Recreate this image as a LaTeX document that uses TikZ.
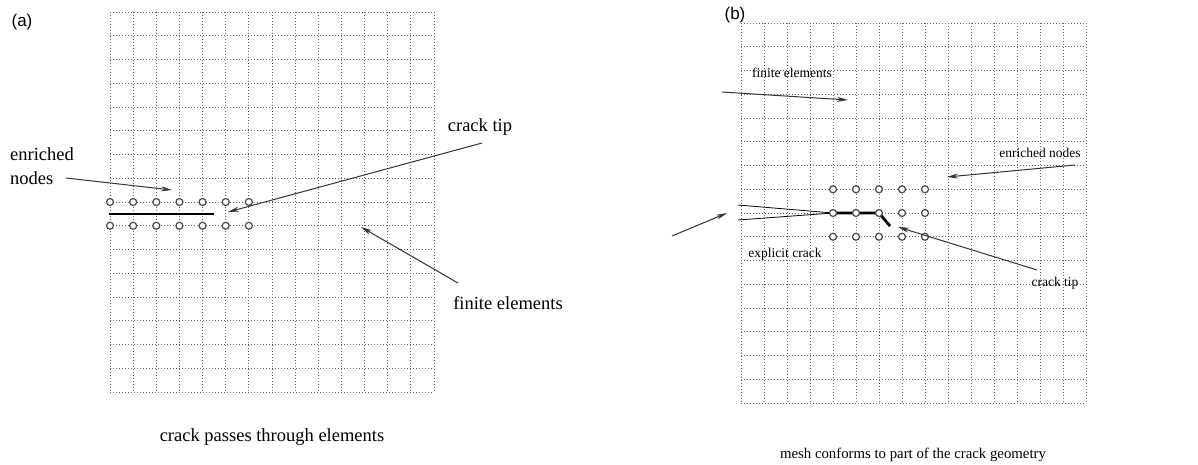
\documentclass[tikz,border=0pt]{standalone}
\usepackage{fontspec}
\setmainfont{Liberation Serif}
\newfontfamily\sansf{Liberation Sans}
\usetikzlibrary{arrows.meta}
\begin{document}
\begin{tikzpicture}[x=1pt,y=-1pt,
 gridline/.style={draw=black!62, line width=1pt, dash pattern=on 1.3pt off 1.7pt},
 enr/.style={circle, draw=black!72, line width=1.2pt, inner sep=0pt, minimum size=7pt, fill=white},
 lab/.style={font=\fontsize{18.5}{24}\selectfont, inner sep=0pt, align=left},
 labb/.style={font=\fontsize{13.5}{16}\selectfont, inner sep=0pt},
 capbstyle/.style={font=\fontsize{14.8}{17}\selectfont, inner sep=0pt},
 tag/.style={font=\sansf\fontsize{17}{20}\selectfont, inner sep=0pt},
 ptr/.style={draw=black!80, line width=1pt, -{Stealth[length=11pt,width=5pt]}},
 crack/.style={line width=2.8pt, black},
 thincrack/.style={line width=0.8pt, black}]
\useasboundingbox (0,0) rectangle (1198,464);
\fill[white] (0,0) rectangle (1198,464);

% ---------- panel (a) ----------
\foreach \i in {0,...,14} \draw[gridline] ({110+\i*23.143},12) -- ++(0,380);
\foreach \j in {0,...,16} \draw[gridline] (110,{12+\j*23.75}) -- ++(324,0);
\draw[crack] (109,214) -- (214,214);
\foreach \k in {0,...,6} {
  \node[enr] (at\k) at ({110+\k*23.143},202) {};
  \node[enr] (ab\k) at ({110+\k*23.143},225.75) {};
}
\node[tag] (taga) at (22,22) {(a)};
\node[lab, anchor=west] (enra) at (10,166) {enriched\\nodes};
\node[lab] (tipa) at (480,127) {crack tip};
\node[lab] (fea) at (508,303) {finite elements};
\node[lab] (capa) at (272,437) {crack passes through elements};
\coordinate (enraS) at (66,178); \coordinate (enraE) at (172,190);
\coordinate (tipaS) at (482,143); \coordinate (tipaE) at (228,212);
\coordinate (feaS) at (458,283); \coordinate (feaE) at (361,227);
\draw[ptr] (enraS) -- (enraE);
\draw[ptr] (tipaS) -- (tipaE);
\draw[ptr] (feaS) -- (feaE);

% ---------- panel (b) ----------
\foreach \i in {0,...,15} \draw[gridline] ({741+\i*23},23) -- ++(0,380);
\foreach \j in {0,...,16} \draw[gridline] (741,{23+\j*23.75}) -- ++(345,0);
\draw[thincrack] (738,205) -- (833,213);
\draw[thincrack] (738,220) -- (833,213);
\draw[crack] (833,213) -- (879,213) -- (890,226);
\foreach \k in {4,...,8} {
  \node[enr] (bt\k) at ({741+\k*23},189.25) {};
  \node[enr] (bm\k) at ({741+\k*23},213) {};
  \node[enr] (bb\k) at ({741+\k*23},236.75) {};
}
\node[tag] (tagb) at (735,15) {(b)};
\node[labb] (feb) at (792,73) {finite elements};
\node[labb] (enrb) at (1040,153) {enriched nodes};
\node[labb] (expb) at (785,254) {explicit crack};
\node[labb] (tipb) at (1055,283) {crack tip};
\node[capbstyle] (capb) at (913,455) {mesh conforms to part of the crack geometry};
\coordinate (febS) at (722,92); \coordinate (febE) at (848,100);
\coordinate (enrbS) at (1075,165); \coordinate (enrbE) at (947,177);
\coordinate (expbS) at (672,236); \coordinate (expbE) at (727,213);
\coordinate (tipbS) at (1037,270); \coordinate (tipbE) at (898,227);
\draw[ptr] (febS) -- (febE);
\draw[ptr] (enrbS) -- (enrbE);
\draw[ptr] (expbS) -- (expbE);
\draw[ptr] (tipbS) -- (tipbE);
\end{tikzpicture}
\end{document}
